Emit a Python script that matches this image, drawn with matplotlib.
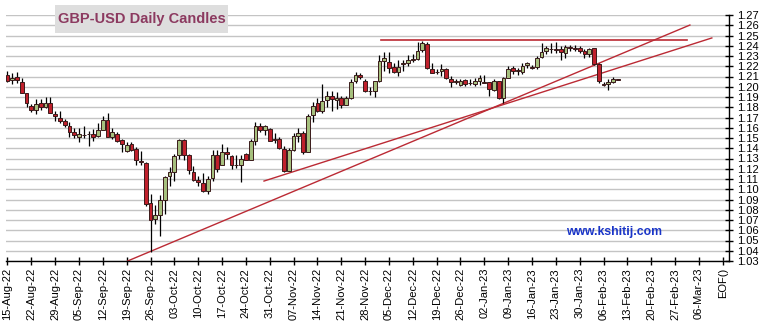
import numpy as np
import matplotlib
matplotlib.use("Agg")
import matplotlib.pyplot as plt
from matplotlib.patches import Rectangle

plt.rcParams['font.family'] = ['Liberation Sans', 'DejaVu Sans']

# daily OHLC, 15-Aug-22 .. 09-Feb-23 (one entry per trading day)
opens = [1.2110, 1.2065, 1.2095, 1.2045, 1.1935, 1.1815, 1.1775, 1.1840, 1.1805, 1.1845,
         1.1735, 1.1700, 1.1665, 1.1620, 1.1555, 1.1510, 1.1532, 1.1535, 1.1535, 1.1515,
         1.1580, 1.1680, 1.1510, 1.1535, 1.1480, 1.1375, 1.1445, 1.1390, 1.1280, 1.1255,
         1.0865, 1.0710, 1.0750, 1.0900, 1.1130, 1.1165, 1.1330, 1.1480, 1.1335, 1.1170,
         1.1095, 1.1065, 1.0985, 1.1110, 1.1330, 1.1240, 1.1360, 1.1320, 1.1240, 1.1240,
         1.1340, 1.1290, 1.1475, 1.1620, 1.1575, 1.1590, 1.1490, 1.1490, 1.1395, 1.1175,
         1.1380, 1.1520, 1.1548, 1.1365, 1.1720, 1.1845, 1.1765, 1.1872, 1.1905, 1.1866,
         1.1890, 1.1820, 1.1890, 1.2056, 1.2110, 1.2055, 1.1958, 1.1955, 1.2055, 1.2250,
         1.2245, 1.2195, 1.2140, 1.2220, 1.2235, 1.2265, 1.2273, 1.2358, 1.2420, 1.2177,
         1.2148, 1.2157, 1.2177, 1.2080, 1.2048, 1.2015, 1.2066, 1.2040, 1.2024, 1.2056,
         1.2050, 1.2047, 1.1970, 1.2056, 1.1890, 1.2090, 1.2187, 1.2150, 1.2145, 1.2210,
         1.2190, 1.2196, 1.2293, 1.2348, 1.2370, 1.2365, 1.2370, 1.2332, 1.2385, 1.2376,
         1.2374, 1.2348, 1.2316, 1.2374, 1.2218, 1.2030, 1.2024, 1.2050, 1.2075]
highs = [1.2150, 1.2135, 1.2140, 1.2085, 1.1940, 1.1830, 1.1880, 1.1880, 1.1900, 1.1900,
         1.1760, 1.1760, 1.1690, 1.1655, 1.1595, 1.1600, 1.1620, 1.1565, 1.1585, 1.1645,
         1.1715, 1.1740, 1.1600, 1.1555, 1.1490, 1.1460, 1.1465, 1.1410, 1.1370, 1.1270,
         1.0950, 1.0850, 1.0940, 1.1130, 1.1220, 1.1345, 1.1495, 1.1495, 1.1340, 1.1230,
         1.1130, 1.1160, 1.1130, 1.1385, 1.1380, 1.1440, 1.1410, 1.1330, 1.1330, 1.1335,
         1.1350, 1.1495, 1.1655, 1.1645, 1.1630, 1.1600, 1.1545, 1.1505, 1.1420, 1.1400,
         1.1550, 1.1600, 1.1570, 1.1735, 1.1855, 1.1890, 1.2025, 1.1960, 1.1955, 1.1945,
         1.1910, 1.1910, 1.2075, 1.2145, 1.2130, 1.2075, 1.2000, 1.2060, 1.2310, 1.2340,
         1.2340, 1.2235, 1.2260, 1.2265, 1.2305, 1.2315, 1.2440, 1.2445, 1.2435, 1.2235,
         1.2170, 1.2220, 1.2187, 1.2105, 1.2075, 1.2075, 1.2080, 1.2080, 1.2085, 1.2110,
         1.2110, 1.2050, 1.2080, 1.2060, 1.2095, 1.2200, 1.2200, 1.2185, 1.2235, 1.2240,
         1.2210, 1.2300, 1.2430, 1.2400, 1.2430, 1.2435, 1.2400, 1.2410, 1.2410, 1.2410,
         1.2400, 1.2365, 1.2380, 1.2380, 1.2235, 1.2047, 1.2075, 1.2095, 1.2078]
lows = [1.2050, 1.2030, 1.2035, 1.1935, 1.1800, 1.1755, 1.1730, 1.1770, 1.1795, 1.1740,
        1.1670, 1.1645, 1.1605, 1.1510, 1.1500, 1.1460, 1.1500, 1.1420, 1.1470, 1.1510,
        1.1575, 1.1505, 1.1490, 1.1460, 1.1360, 1.1360, 1.1375, 1.1240, 1.1235, 1.0840,
        1.0385, 1.0660, 1.0540, 1.0760, 1.1035, 1.1085, 1.1300, 1.1285, 1.1150, 1.1080,
        1.1030, 1.0970, 1.0950, 1.1080, 1.1170, 1.1235, 1.1300, 1.1200, 1.1205, 1.1075,
        1.1285, 1.1285, 1.1435, 1.1560, 1.1525, 1.1470, 1.1455, 1.1395, 1.1170, 1.1175,
        1.1370, 1.1460, 1.1345, 1.1360, 1.1655, 1.1750, 1.1740, 1.1800, 1.1765, 1.1780,
        1.1790, 1.1820, 1.1885, 1.2040, 1.2075, 1.1950, 1.1920, 1.1900, 1.2050, 1.2155,
        1.2130, 1.2130, 1.2105, 1.2155, 1.2200, 1.2245, 1.2265, 1.2340, 1.2175, 1.2135,
        1.2120, 1.2105, 1.2080, 1.2000, 1.2025, 1.2010, 1.2010, 1.2015, 1.2005, 1.2020,
        1.2035, 1.1910, 1.1960, 1.1880, 1.1845, 1.2085, 1.2120, 1.2110, 1.2120, 1.2185,
        1.2175, 1.2175, 1.2280, 1.2315, 1.2330, 1.2330, 1.2265, 1.2285, 1.2350, 1.2350,
        1.2330, 1.2285, 1.2290, 1.2210, 1.2040, 1.2010, 1.1970, 1.2040, 1.2068]
closes = [1.2060, 1.2090, 1.2065, 1.1940, 1.1840, 1.1770, 1.1835, 1.1805, 1.1845, 1.1745,
          1.1710, 1.1665, 1.1625, 1.1555, 1.1525, 1.1535, 1.1528, 1.1540, 1.1505, 1.1580,
          1.1680, 1.1510, 1.1555, 1.1475, 1.1440, 1.1430, 1.1385, 1.1290, 1.1270, 1.0860,
          1.0700, 1.0745, 1.0895, 1.1120, 1.1165, 1.1325, 1.1480, 1.1335, 1.1185, 1.1090,
          1.1070, 1.0980, 1.1100, 1.1330, 1.1200, 1.1360, 1.1340, 1.1240, 1.1235, 1.1300,
          1.1290, 1.1470, 1.1620, 1.1575, 1.1615, 1.1475, 1.1478, 1.1400, 1.1175, 1.1380,
          1.1515, 1.1548, 1.1365, 1.1710, 1.1810, 1.1765, 1.1860, 1.1910, 1.1880, 1.1889,
          1.1820, 1.1890, 1.2050, 1.2110, 1.2100, 1.1955, 1.1955, 1.2055, 1.2250, 1.2283,
          1.2185, 1.2140, 1.2195, 1.2235, 1.2257, 1.2268, 1.2348, 1.2422, 1.2186, 1.2138,
          1.2142, 1.2177, 1.2086, 1.2047, 1.2052, 1.2056, 1.2025, 1.2035, 1.2056, 1.2089,
          1.2040, 1.1976, 1.2056, 1.1890, 1.2090, 1.2177, 1.2155, 1.2160, 1.2200, 1.2228,
          1.2186, 1.2283, 1.2338, 1.2380, 1.2364, 1.2362, 1.2338, 1.2390, 1.2380, 1.2372,
          1.2348, 1.2316, 1.2364, 1.2218, 1.2056, 1.2020, 1.2047, 1.2073, 1.2070]

week_labels = ['15-Aug-22', '22-Aug-22', '29-Aug-22', '05-Sep-22', '12-Sep-22', '19-Sep-22',
               '26-Sep-22', '03-Oct-22', '10-Oct-22', '17-Oct-22', '24-Oct-22', '31-Oct-22',
               '07-Nov-22', '14-Nov-22', '21-Nov-22', '28-Nov-22', '05-Dec-22', '12-Dec-22',
               '19-Dec-22', '26-Dec-22', '02-Jan-23', '09-Jan-23', '16-Jan-23', '23-Jan-23',
               '30-Jan-23', '06-Feb-23', '13-Feb-23', '20-Feb-23', '27-Feb-23', '06-Mar-23',
               'EOF()']

# trendlines drawn on the chart (day index, price)
trend_a_x = [25.2, 143.1]
trend_a_y = [1.0300, 1.2602]
trend_b_x = [53.8, 147.7]
trend_b_y = [1.1080, 1.2476]
top_line_x = [78.4, 142.4]
top_line_y = [1.2452, 1.2452]

o = np.array(opens)
h = np.array(highs)
l = np.array(lows)
c = np.array(closes)
x = np.arange(len(o))

fig = plt.figure(figsize=(7.6, 3.26), dpi=100)
ax = fig.add_axes([6 / 760, 1 - 261 / 326, 723 / 760, 246 / 326])

ax.set_xlim(-0.3, 151.3)
ax.set_ylim(1.03, 1.27)

yt = np.round(np.arange(1.03, 1.2701, 0.01), 2)
ax.set_yticks(yt)
ax.set_yticklabels(['%.2f' % v for v in yt])
ax.yaxis.grid(True, color='#c4c4c4', lw=1)
ax.set_axisbelow(True)

ax.set_xticks(np.arange(len(week_labels)) * 5)
ax.set_xticklabels(week_labels, rotation=90)

ax.yaxis.tick_right()
for s in ['top', 'left']:
    ax.spines[s].set_visible(False)
for s in ['bottom', 'right']:
    ax.spines[s].set_linewidth(1)
ax.tick_params(axis='both', direction='inout', length=6, width=1, labelsize=8, pad=2)
ax.tick_params(axis='y', pad=3)

# trendlines
ax.plot(trend_a_x, trend_a_y, color='#bb2a34', lw=1, zorder=2)
ax.plot(trend_b_x, trend_b_y, color='#bb2a34', lw=1, zorder=2)
ax.plot(top_line_x, top_line_y, color='#bb2a34', lw=1.2, zorder=2)

# candles
up = c >= o
ax.vlines(x, l, h, color='black', lw=0.9, zorder=3)
body_lo = np.minimum(o, c)
body_h = np.maximum(np.abs(c - o), 0.0003)
cols = np.where(up, '#a6c07e', '#c0202c')
ax.bar(x, body_h, bottom=body_lo, width=0.78, color=cols, edgecolor='#3a1a1a',
       linewidth=0.7, zorder=4)

# title box
fig.add_artist(Rectangle((55 / 760, 1 - 33 / 326), 173 / 760, 28 / 326,
                         transform=fig.transFigure, facecolor='#dedede', edgecolor='none'))
fig.text(141.5 / 760, 1 - 19 / 326, 'GBP-USD Daily Candles', ha='center', va='center',
         fontsize=10.5, fontweight='bold', color='#8c3a60')

fig.text(614 / 760, 1 - 232 / 326, 'www.kshitij.com', ha='center', va='center',
         fontsize=8.8, fontweight='bold', color='#1a35c8')

fig.savefig('out.png', dpi=100)
